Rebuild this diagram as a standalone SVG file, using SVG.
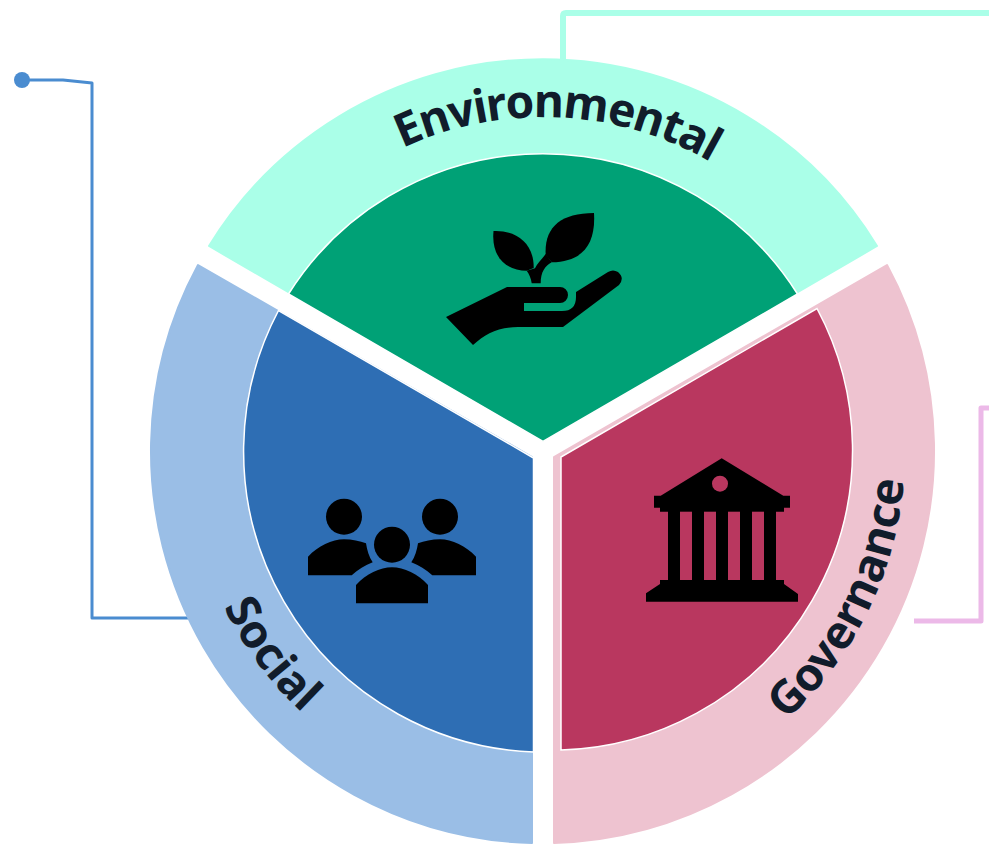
<svg xmlns="http://www.w3.org/2000/svg" width="989" height="844" viewBox="0 0 989 844">
<style>
.lbl{font-family:"Noto Sans","Open Sans",sans-serif;font-weight:700;font-size:46px;letter-spacing:0;fill:#111c2b;text-anchor:middle}
.tight{letter-spacing:-1.4px}
.icon{fill:#000}
.dark{stroke:#fff;stroke-width:1.5}
.light{stroke-width:2;stroke-linejoin:round}
.conn{fill:none;stroke-linejoin:round}
</style>
<defs>
<path id="arcE" d="M260.6,272 A335,335 0 0 1 840.1,297.3"/>
<path id="arcS" d="M217.2,311 A355,355 0 0 0 583.8,804.6"/>
<path id="arcG" d="M564.5,813.3 A362,362 0 0 0 845.3,252.8"/>
</defs>
<rect width="989" height="844" fill="#fff"/>
<g id="connectors">
<path class="conn" d="M22,80 H63 L92,83 V618 H188" stroke="#4a8cd0" stroke-width="3"/>
<circle cx="22" cy="80" r="8" fill="#4a8cd0"/>
<path class="conn" d="M563,60 V16 Q563,13 566,13 H989" stroke="#aaffe8" stroke-width="6"/>
<path class="conn" d="M914,621 H981 V408 H989" stroke="#ecb9e8" stroke-width="5"/>
</g>
<g id="environmental">
<path class="light" fill="#aaffe8" stroke="#aaffe8" d="M209,246 A392,392 0 0 1 877,246 L543,440 Z"/>
<path class="dark" fill="#00a176" d="M288.5,294 A301,301 0 0 1 797.5,294 L543,441.5 Z"/>
<g class="icon">
<path d="M446,317 L507,287 H560 A8,8 0 0 1 560,303 H524 V311 H562 Q576,311 576,297 V292 L608,272 Q613,269 618,272 Q625,278 619,285 L563,327 H518 C498,327 485,334 473,345 Z"/>
<path d="M493.5,231 C515,230 534,242 533.7,268 L526.7,270.7 C507,270.7 491,258 493.5,231 Z"/>
<path d="M545.7,255 C544,228 560,213 594,213 C596,245 582,262 551.7,262.3 Z"/>
<path d="M545.7,254 C541,260 537,264 535,268.3 L526.7,270.7 C529,274 531,278 531.7,283.3 H540.7 C540.7,272 545,266 551.7,262.3 Z"/>
</g>
<text class="lbl tight"><textPath href="#arcE" startOffset="50%">Environmental</textPath></text>
</g>
<g id="social">
<path class="light" fill="#9abee6" stroke="#9abee6" d="M198,265 A392,392 0 0 0 532,843 V457 Z"/>
<path class="dark" fill="#2e6eb4" d="M278.5,310.5 A301,301 0 0 0 533.5,752 V458 Z"/>
<g class="icon">
<circle cx="344" cy="516.7" r="18"/>
<circle cx="440" cy="516.7" r="18"/>
<circle cx="392" cy="544.7" r="18"/>
<path d="M356,603.3 V585 C366,574 380,567.3 392,567.3 C404,567.3 418,574 428,585 V603.3 Z"/>
<path d="M308,575.3 V556.7 C318,546 332,539.3 344,539.3 C352,539.3 360,541 366,543.3 C367,550 369,557 372.7,562.3 C365,565 358,570 351.7,575.3 Z"/>
<path d="M476,575.3 V556.7 C466,546 452,539.3 440,539.3 C432,539.3 424,541 418,543.3 C417,550 415,557 411.3,562.3 C419,565 426,570 432.3,575.3 Z"/>
</g>
<text class="lbl"><textPath href="#arcS" startOffset="50%">Social</textPath></text>
</g>
<g id="governance">
<path class="light" fill="#eec3d0" stroke="#eec3d0" d="M887,265 A392,392 0 0 1 554,843 V457 Z"/>
<path class="dark" fill="#b9375f" d="M817,308.5 A300,300 0 0 1 561,750 V457 Z"/>
<g class="icon">
<path d="M721.7,458.3 L783.3,495.7 H790 V507.7 H784 V511.7 H776 V580 H784 V584 L798,594 V601.7 H646 V593.3 L660,584 V580 H668 V511.7 H660 V507.7 H654 V495.7 H660.7 Z"/>
</g>
<g fill="#b9375f">
<circle cx="720" cy="483.7" r="8"/>
<rect x="680" y="511.7" width="12" height="68.3"/>
<rect x="704" y="511.7" width="12" height="68.3"/>
<rect x="728" y="511.7" width="12" height="68.3"/>
<rect x="752" y="511.7" width="12" height="68.3"/>
</g>
<text class="lbl"><textPath href="#arcG" startOffset="50.4%">Governance</textPath></text>
</g>
</svg>
